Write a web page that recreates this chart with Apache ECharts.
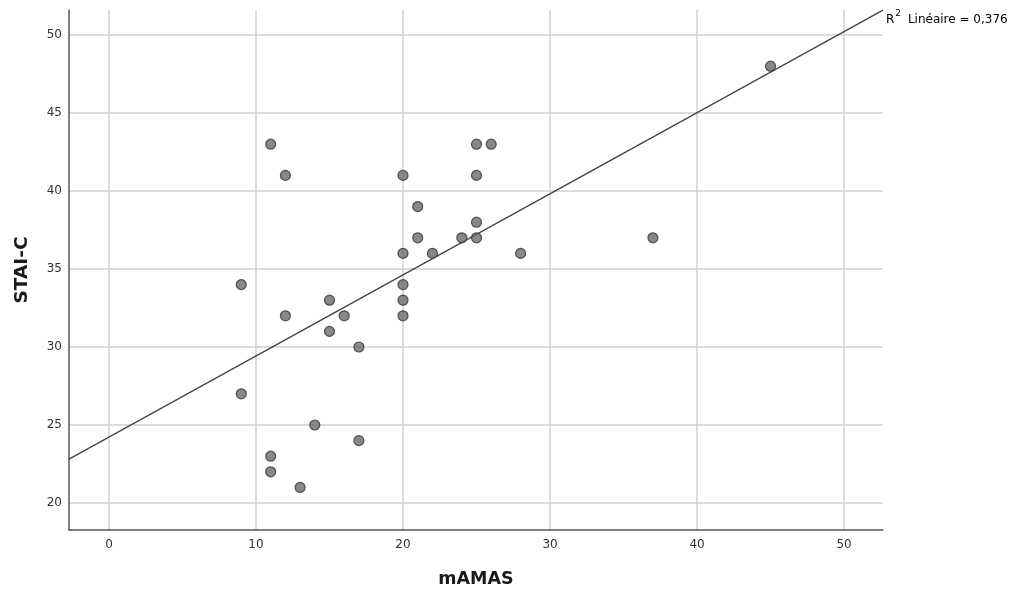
<!DOCTYPE html>
<html>
<head>
<meta charset="utf-8">
<script src="https://cdn.jsdelivr.net/npm/echarts@6/dist/echarts.min.js"></script>
<style>
  html, body { margin: 0; padding: 0; background: #fff; }
  #chart { width: 1019px; height: 590px; }
</style>
</head>
<body>
<div id="chart"></div>
<script>
// mAMAS (x) vs STAI-C (y), one entry per participant
const mamas = [9, 9, 11, 12, 11, 11, 13, 14, 17, 12, 15, 15, 16, 17, 20, 20, 20, 20, 20, 21, 21, 22, 24, 25, 26, 25, 25, 25, 28, 37, 45]
const staiC = [34, 27, 43, 41, 23, 22, 21, 25, 24, 32, 33, 31, 32, 30, 41, 36, 34, 33, 32, 39, 37, 36, 37, 43, 43, 41, 38, 37, 36, 37, 48]

const xTicks = [0, 10, 20, 30, 40, 50]
const yTicks = [20, 25, 30, 35, 40, 45, 50]
const xRange = [-2.72, 52.65]
const yRange = [18.27, 51.6]
const r2Label = '0,376'

// least squares fit for the reference line
function fitLine(xs, ys) {
  const n = xs.length
  const mx = xs.reduce((a, b) => a + b, 0) / n
  const my = ys.reduce((a, b) => a + b, 0) / n
  let sxy = 0
  let sxx = 0
  for (let i = 0; i < n; i++) {
    sxy += (xs[i] - mx) * (ys[i] - my)
    sxx += (xs[i] - mx) ** 2
  }
  const slope = sxy / sxx
  return { slope, intercept: my - slope * mx }
}

const fit = fitLine(mamas, staiC)
const fitPoints = xRange.map((x) => [x, fit.intercept + fit.slope * x])
const points = mamas.map((x, i) => [x, staiC[i]])

const font = '"DejaVu Sans", sans-serif'
const chart = echarts.init(document.getElementById('chart'))

chart.setOption({
  animation: false,
  grid: { left: 69, right: 136, top: 10, bottom: 60, outerBoundsMode: 'none', containLabel: false },
  xAxis: {
    type: 'value',
    min: xRange[0],
    max: xRange[1],
    name: 'mAMAS',
    nameLocation: 'middle',
    nameGap: 40,
    nameTextStyle: { fontFamily: font, fontSize: 17.5, fontWeight: 'bold', color: '#1a1a1a' },
    axisLine: { show: true, onZero: false, lineStyle: { color: '#555', width: 1.5 } },
    axisTick: { show: false, customValues: xTicks },
    axisLabel: { customValues: xTicks, margin: 9, fontFamily: font, fontSize: 12, color: '#333' },
    splitLine: { show: true, lineStyle: { color: '#d0d0d0', width: 1.5 } },
  },
  yAxis: {
    type: 'value',
    min: yRange[0],
    max: yRange[1],
    name: 'STAI-C',
    nameLocation: 'middle',
    nameGap: 37,
    nameRotate: 90,
    nameTextStyle: { fontFamily: font, fontSize: 18.5, fontWeight: 'bold', color: '#1a1a1a' },
    axisLine: { show: true, onZero: false, lineStyle: { color: '#555', width: 1.5 } },
    axisTick: { show: false, customValues: yTicks },
    axisLabel: { customValues: yTicks, margin: 7, fontFamily: font, fontSize: 12, color: '#333' },
    splitLine: { show: true, lineStyle: { color: '#d0d0d0', width: 1.5 } },
  },
  series: [
    {
      type: 'line',
      data: fitPoints,
      symbol: 'none',
      lineStyle: { color: '#444', width: 1.3 },
      z: 3,
    },
    {
      type: 'scatter',
      data: points,
      symbolSize: 10,
      itemStyle: { color: '#6a6a6a', borderColor: '#333', borderWidth: 1.2 },
      z: 4,
    },
  ],
  graphic: [
    {
      type: 'text',
      left: 886,
      top: 9,
      style: {
        text: '{b|R}{s|2}{b| Linéaire = ' + r2Label + '}',
        rich: {
          b: { fontFamily: font, fontSize: 12, color: '#222', verticalAlign: 'bottom', lineHeight: 17 },
          s: { fontFamily: font, fontSize: 9, color: '#222', verticalAlign: 'top', lineHeight: 17, padding: [0, 3, 0, 1] },
        },
      },
    },
  ],
})
</script>
</body>
</html>
